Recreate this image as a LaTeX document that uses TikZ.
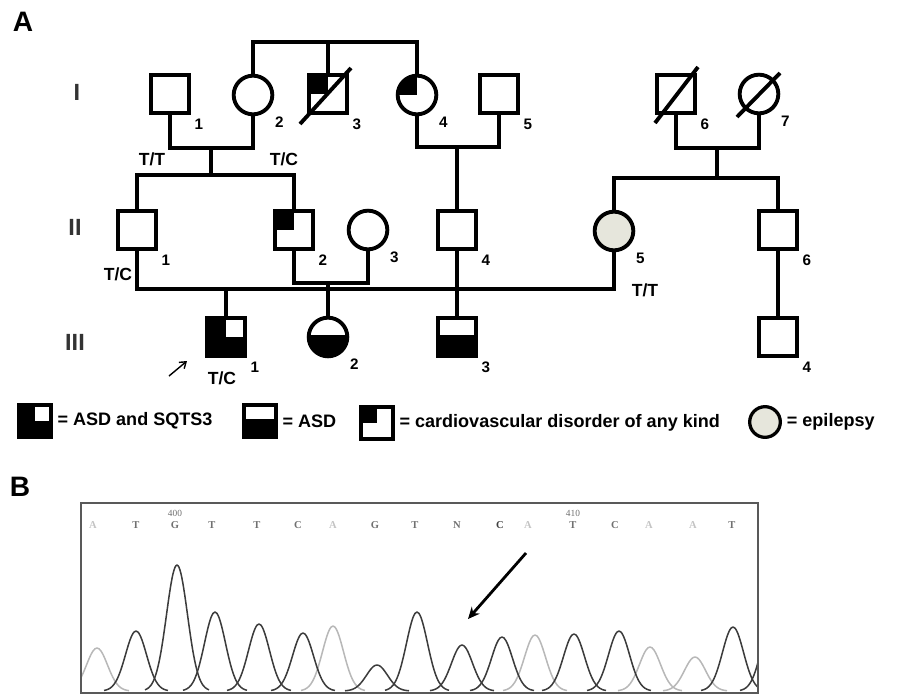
\documentclass[tikz,border=0pt]{standalone}
\usepackage{fontspec}
\setmainfont{Liberation Sans}
\newfontfamily\seqfont{Liberation Serif}
\usetikzlibrary{calc,arrows.meta}
\definecolor{epigray}{HTML}{E6E6DC}
\definecolor{tracedark}{HTML}{3C3C3C}
\definecolor{tracelite}{HTML}{B8B8B8}
\definecolor{basedark}{HTML}{707070}
\definecolor{baselite}{HTML}{C4C4C4}
\tikzset{
  male/.style={draw,line width=3.3pt,minimum size=11.6mm,inner sep=0pt},
  female/.style={male,circle},
  keysym/.style={draw,line width=2.8pt,minimum size=9.6mm,inner sep=0pt},
  cardio/.style={path picture={\fill (path picture bounding box.north west) rectangle (path picture bounding box.center);}},
  asd/.style={path picture={\fill ($(path picture bounding box.north west)!0.44!(path picture bounding box.south west)$) rectangle (path picture bounding box.south east);}},
  sqts/.style={path picture={\fill (path picture bounding box.south west) rectangle (path picture bounding box.north east);
      \fill[white] (path picture bounding box.center) rectangle (path picture bounding box.north east);}},
  epil/.style={fill=epigray},
  num/.style={font=\fontsize{13}{13}\selectfont\bfseries,inner sep=1pt,label distance=0.8mm},
  fnum/.style={num,label distance=2.4mm},
  geno/.style={font=\fontsize{15}{15}\selectfont\bfseries,inner sep=0pt},
  gen/.style={font=\fontsize{20}{20}\selectfont\bfseries,text=black!80,inner sep=0pt},
  panel/.style={font=\fontsize{24}{24}\selectfont\bfseries,inner sep=0pt},
  key/.style={font=\fontsize{15.4}{16}\selectfont\bfseries,anchor=west,inner sep=4pt},
  line/.style={line width=3.3pt},
  base/.style={font=\seqfont\fontsize{9}{9}\selectfont\bfseries,inner sep=0pt},
  trace/.style={line width=1.3pt,line join=round}
}
\begin{document}
\begin{tikzpicture}[x=0.3mm,y=-0.3mm]
\useasboundingbox (0,0) rectangle (899,695);

% panel A: pedigree
\node[panel] (pA) at (23,22) {A};
\node[gen] (g1) at (77,92) {I};
\node[gen] (g2) at (75,227) {II};
\node[gen] (g3) at (75,342) {III};

% generation I
\node[male,label={[num]below right:1}] (I1) at (170,94) {};
\node[female,label={[fnum]below right:2}] (I2) at (253,95) {};
\node[male,cardio,label={[num]below right:3}] (I3) at (328,94) {};
\node[female,cardio,label={[fnum]below right:4}] (I4) at (417,95) {};
\node[male,label={[num]below right:5}] (I5) at (499,94) {};
\node[male,label={[num]below right:6}] (I6) at (676,94) {};
\node[female,label={[fnum]below right:7}] (I7) at (759,94) {};
\draw[line] ([shift={(-28,30)}]I3.center) -- ([shift={(23,-26)}]I3.center);
\draw[line] ([shift={(-21,29)}]I6.center) -- ([shift={(22,-27)}]I6.center);
\draw[line] ([shift={(-22,23)}]I7.center) -- ([shift={(21,-21)}]I7.center);

% generation II
\node[male,label={[num]below right:1}] (II1) at (137,230) {};
\node[male,cardio,label={[num]below right:2}] (II2) at (294,230) {};
\node[female,label={[fnum]below right:3}] (II3) at (368,230) {};
\node[male,label={[num]below right:4}] (II4) at (457,230) {};
\node[female,epil,label={[fnum]below right:5}] (II5) at (614,231) {};
\node[male,label={[num]below right:6}] (II6) at (778,230) {};

% generation III
\node[male,sqts,label={[num]below right:1}] (III1) at (226,337) {};
\node[female,asd,label={[fnum]below right:2}] (III2) at (328,337) {};
\node[male,asd,label={[num]below right:3}] (III3) at (457,337) {};
\node[male,label={[num]below right:4}] (III4) at (778,337) {};

% genotypes
\node[geno] (gtI1) at (152,159) {T/T};
\node[geno] (gtI2) at (284,159) {T/C};
\node[geno] (gtII1) at (118,274) {T/C};
\node[geno] (gtII5) at (645,290) {T/T};
\node[geno] (gtIII1) at (222,378) {T/C};

% proband
\coordinate (pr0) at (169,376);
\coordinate (pr1) at (187,361);
\draw[line width=1.2pt,-{Straight Barb[length=5pt,width=7pt]}] (pr0) -- (pr1);

% lines of descent
\coordinate (sI234) at (328,42);
\coordinate (mI12) at (211,148);
\coordinate (sI12) at (211,175);
\coordinate (mI45) at (457,147);
\coordinate (mI67) at (717,148);
\coordinate (sI67) at (717,178);
\coordinate (mII23) at (328,283);
\coordinate (mII15) at (226,289);
\draw[line] (I2.north) |- (sI234) -| (I4.north);
\draw[line] (sI234) -- (I3.north);
\draw[line] (I1.south) |- (mI12) -| (I2.south);
\draw[line] (mI12) -- (sI12);
\draw[line] (II1.north) |- (sI12) -| (II2.north);
\draw[line] (I4.south) |- (mI45) -| (I5.south);
\draw[line] (mI45) -- (II4.north);
\draw[line] (I6.south) |- (mI67) -| (I7.south);
\draw[line] (mI67) -- (sI67);
\draw[line] (II5.north) |- (sI67) -| (II6.north);
\draw[line] (II2.south) |- (mII23) -| (II3.south);
\draw[line] (mII23) -- (III2.north);
\draw[line] (II1.south) |- (mII15) -| (II5.south);
\draw[line] (mII15) -- (III1.north);
\draw[line] (II4.south) -- (III3.north);
\draw[line] (II6.south) -- (III4.north);

% key
\node[keysym,sqts] (k1) at (35,421) {};
\node[key] (t1) at (k1.east) {= ASD and SQTS3};
\node[keysym,asd] (k2) at (260,421) {};
\node[key] (t2) at (k2.east) {= ASD};
\node[keysym,cardio] (k3) at (377,423) {};
\node[key] (t3) at (k3.east) {= cardiovascular disorder of any kind};
\node[keysym,circle,epil,minimum size=9.2mm] (k4) at (765,422) {};
\node[key] (t4) at (k4.east) {= epilepsy};

% panel B: chromatogram
\node[panel] (pB) at (20,487) {B};
\node[base,text=basedark,font=\seqfont\fontsize{8}{8}\selectfont] (n400) at (175,513) {400};
\node[base,text=basedark,font=\seqfont\fontsize{8}{8}\selectfont] (n410) at (573,513) {410};
\foreach \bx/\bl/\bc in {93/A/baselite,136/T/basedark,175/G/basedark,212/T/basedark,
    257/T/basedark,298/C/basedark,333/A/baselite,375/G/basedark,415/T/basedark,
    457/N/basedark,500/C/black!75,528/A/baselite,573/T/basedark,615/C/basedark,
    649/A/baselite,693/A/baselite,732/T/basedark}
  \node[base,text=\bc] (b\bx) at (\bx,525) {\bl};
\begin{scope}
\clip (81,503) rectangle (758,693);
\foreach \c/\h in {97/43,333/65,535/56,650/44,695/34}
  \draw[trace,tracelite] plot[domain=\c-32:\c+32,samples=33,smooth] (\x,{691-\h*exp(-((\x-\c)^2)/220)});
\foreach \c/\h in {136/60,177/126,215/79,259/67,303/58,377/26,417/79,462/46,
    502/54,574/57,619/60,733/64,772/70}
  \draw[trace,tracedark] plot[domain=\c-32:\c+32,samples=33,smooth] (\x,{691-\h*exp(-((\x-\c)^2)/220)});
\end{scope}
\draw[line width=1.6pt,black!65] (81,503) rectangle (758,693);
\coordinate (ar0) at (526,553);
\coordinate (ar1) at (468,619);
\draw[line width=2.4pt,-{Stealth[length=10pt,width=9pt]}] (ar0) -- (ar1);
\end{tikzpicture}
\end{document}
